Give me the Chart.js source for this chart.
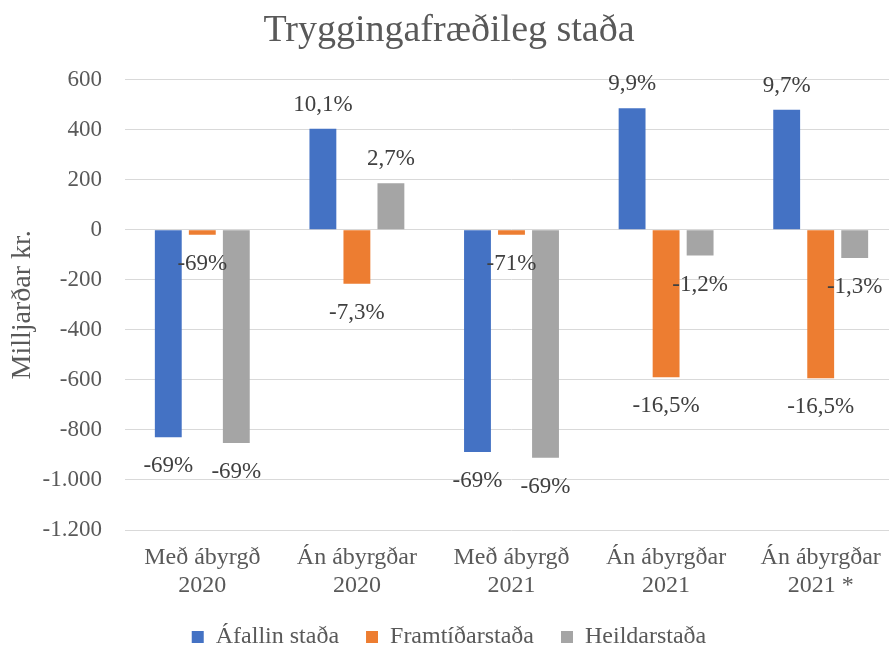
<!DOCTYPE html>
<html>
<head>
<meta charset="utf-8">
<script src="https://cdn.jsdelivr.net/npm/chart.js@4"></script>
<style>
  html, body { margin: 0; padding: 0; background: #fff; overflow: hidden; }
  #wrap { width: 898px; height: 659px; }
</style>
</head>
<body>
<div id="wrap"><canvas id="chart"></canvas></div>
<script>
const categories = [
  ["Með ábyrgð", "2020"],
  ["Án ábyrgðar", "2020"],
  ["Með ábyrgð", "2021"],
  ["Án ábyrgðar", "2021"],
  ["Án ábyrgðar", "2021 *"]
];
const seriesNames = ["Áfallin staða", "Framtíðarstaða", "Heildarstaða"];
const afallin = [-829, 404, -888, 486, 480];
const framtid = [-20, -216, -20, -590, -594];
const heild = [-852, 186, -911, -103, -113];
const afallinLabels = ["-69%", "10,1%", "-69%", "9,9%", "9,7%"];
const framtidLabels = ["-69%", "-7,3%", "-71%", "-16,5%", "-16,5%"];
const heildLabels = ["-69%", "2,7%", "-69%", "-1,2%", "-1,3%"];
const yTicks = { min: -1200, max: 600, step: 200 };

const serif = "'Liberation Serif', 'Times New Roman', serif";

function fmt(v) {
  const s = String(Math.abs(v)).replace(/\B(?=(\d{3})+(?!\d))/g, ".");
  return v < 0 ? "-" + s : s;
}

// draws the percentage labels at the end of each bar
const barLabels = {
  id: "barLabels",
  afterDatasetsDraw(chart) {
    const ctx = chart.ctx;
    ctx.save();
    ctx.font = "23px " + serif;
    ctx.fillStyle = "#404040";
    ctx.textAlign = "center";
    ctx.textBaseline = "middle";
    chart.data.datasets.forEach((ds, i) => {
      chart.getDatasetMeta(i).data.forEach((bar, j) => {
        const v = ds.data[j];
        const y = v < 0 ? bar.y + 29 : bar.y - 24;
        ctx.fillText(ds.pctLabels[j], bar.x, y);
      });
    });
    ctx.restore();
  }
};

new Chart(document.getElementById("chart"), {
  type: "bar",
  data: {
    labels: categories,
    datasets: [
      { label: seriesNames[0], data: afallin, pctLabels: afallinLabels, backgroundColor: "#4472C4" },
      { label: seriesNames[1], data: framtid, pctLabels: framtidLabels, backgroundColor: "#ED7D31" },
      { label: seriesNames[2], data: heild, pctLabels: heildLabels, backgroundColor: "#A5A5A5" }
    ]
  },
  options: {
    responsive: true,
    maintainAspectRatio: false,
    animation: false,
    layout: { padding: 0 },
    datasets: { bar: { barPercentage: 0.79, categoryPercentage: 0.66 } },
    plugins: {
      title: {
        display: true,
        text: "Tryggingafræðileg staða",
        color: "#595959",
        font: { family: serif, size: 38, weight: "normal" },
        padding: { top: 8, bottom: 26 }
      },
      legend: {
        position: "bottom",
        labels: {
          color: "#595959",
          font: { family: serif, size: 24 },
          boxWidth: 12,
          boxHeight: 12,
          padding: 27
        }
      },
      tooltip: { enabled: false }
    },
    scales: {
      x: {
        grid: { display: false, drawTicks: false },
        border: { display: false },
        ticks: {
          color: "#595959",
          font: { family: serif, size: 24, lineHeight: 1.15 },
          padding: 14,
          maxRotation: 0,
          autoSkip: false
        },
        afterFit(scale) { scale.height = 68; }
      },
      y: {
        min: yTicks.min,
        max: yTicks.max,
        grid: { color: "#D9D9D9", lineWidth: 1, drawTicks: false },
        border: { display: false },
        ticks: {
          stepSize: yTicks.step,
          color: "#595959",
          font: { family: serif, size: 23 },
          padding: 23,
          callback: v => fmt(v)
        },
        title: {
          display: true,
          text: "Milljarðar kr.",
          color: "#595959",
          font: { family: serif, size: 28 },
          padding: { top: 6, bottom: 0 }
        },
        afterFit(scale) { scale.width = 125; }
      }
    }
  },
  plugins: [barLabels]
});
</script>
</body>
</html>
